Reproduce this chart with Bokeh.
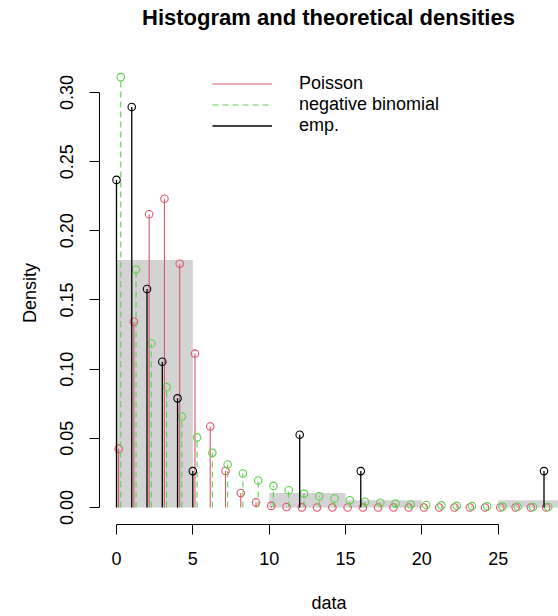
from bokeh.plotting import figure
from bokeh.models import (ColumnDataSource, FixedTicker, Legend, LegendItem, Range1d,
                          PrintfTickFormatter, Div)
from bokeh.layouts import column
from bokeh.transform import dodge
from bokeh.embed import file_html
from bokeh.resources import INLINE

FONT = "Liberation Sans"
RED = "#DF536B"
GREEN = "#61D04F"
GREY = "#D3D3D3"
TITLE = "Histogram and theoretical densities"

# ---- data ----
hist_left = [0, 5, 10, 15, 20, 25]
hist_right = [5, 10, 15, 20, 25, 30]
hist_density = [0.1789, 0.0, 0.0105, 0.0053, 0.0, 0.0053]

emp_x = [0, 1, 2, 3, 4, 5, 12, 16, 28]
emp_density = [0.2368, 0.2895, 0.1579, 0.1053, 0.0789, 0.0263, 0.0526, 0.0263, 0.0263]

k_values = list(range(29))
poisson_density = [0.04252, 0.13426, 0.21199, 0.22314, 0.17617, 0.11126, 0.05856, 0.02642,
                   0.01043, 0.00366, 0.00116, 0.00033, 0.00009, 0.00002, 0.000005, 0.000001,
                   0.0, 0.0, 0.0, 0.0, 0.0, 0.0, 0.0, 0.0, 0.0, 0.0, 0.0, 0.0, 0.0]
nbinom_density = [0.3111, 0.1720, 0.1185, 0.0870, 0.0658, 0.0507, 0.0395, 0.0311, 0.0246,
                  0.0195, 0.0156, 0.0125, 0.0100, 0.0081, 0.0065, 0.0052, 0.0042, 0.0034,
                  0.0028, 0.0022, 0.0018, 0.0015, 0.0012, 0.0010, 0.0008, 0.0006, 0.0005,
                  0.0004, 0.0004]

x_ticks = [0, 5, 10, 15, 20, 25]
y_ticks = [0.0, 0.05, 0.10, 0.15, 0.20, 0.25, 0.30]

hist_src = ColumnDataSource(dict(left=hist_left, right=hist_right, top=hist_density))
emp_src = ColumnDataSource(dict(k=emp_x, d=emp_density))
th_src = ColumnDataSource(dict(k=k_values, pois=poisson_density, nb=nbinom_density))

TITLE_H = 40
p = figure(width=558, height=616 - TITLE_H, output_backend="svg", toolbar_location=None,
           x_range=Range1d(-1.113, 28.95), y_range=Range1d(-0.0123, 0.3224),
           min_border_left=99, min_border_right=0, min_border_top=61 - TITLE_H,
           min_border_bottom=92)
p.background_fill_color = "white"
p.border_fill_color = "white"
p.outline_line_color = None
p.xgrid.visible = False
p.ygrid.visible = False

p.quad(left="left", right="right", bottom=0, top="top", source=hist_src,
       fill_color=GREY, line_color=None)

xp = dodge("k", 0.14, range=p.x_range)
xn = dodge("k", 0.28, range=p.x_range)

r_pois = p.segment(x0=xp, y0=0, x1=xp, y1="pois", source=th_src, line_color=RED, line_width=1.1)
p.scatter(x=xp, y="pois", source=th_src, marker="circle", size=7.5,
          fill_color=None, line_color=RED, line_width=1.1)

r_nb = p.segment(x0=xn, y0=0, x1=xn, y1="nb", source=th_src, line_color=GREEN,
                 line_width=1.1, line_dash="6 4")
p.scatter(x=xn, y="nb", source=th_src, marker="circle", size=7.5,
          fill_color=None, line_color=GREEN, line_width=1.1)

r_emp = p.segment(x0="k", y0=0, x1="k", y1="d", source=emp_src, line_color="black", line_width=1.3)
p.scatter(x="k", y="d", source=emp_src, marker="circle", size=7.5,
          fill_color=None, line_color="black", line_width=1.1)

legend = Legend(items=[LegendItem(label="Poisson", renderers=[r_pois]),
                       LegendItem(label="negative binomial", renderers=[r_nb]),
                       LegendItem(label="emp.", renderers=[r_emp])],
                location=(113, 388), padding=0, margin=0, spacing=0,
                glyph_width=60, glyph_height=21, label_height=21, label_standoff=27,
                label_text_font=FONT, label_text_font_size="18px", label_text_color="black",
                background_fill_alpha=0, border_line_alpha=0)
p.add_layout(legend, "center")

for ax in (p.xaxis[0], p.yaxis[0]):
    ax.axis_line_color = "black"
    ax.major_tick_line_color = "black"
    ax.major_tick_in = 0
    ax.major_tick_out = 10
    ax.minor_tick_line_color = None
    ax.major_label_text_font = FONT
    ax.major_label_text_font_size = "18px"
    ax.major_label_text_color = "black"
    ax.axis_label_text_font = FONT
    ax.axis_label_text_font_size = "18px"
    ax.axis_label_text_font_style = "normal"
    ax.axis_label_text_color = "black"

p.xaxis.bounds = (0, 25)
p.xaxis.ticker = FixedTicker(ticks=x_ticks)
p.xaxis.axis_label = "data"
p.xaxis.major_label_standoff = 17
p.xaxis.axis_label_standoff = 25

p.yaxis.bounds = (0, 0.30)
p.yaxis.ticker = FixedTicker(ticks=y_ticks)
p.yaxis.formatter = PrintfTickFormatter(format="%.2f")
p.yaxis.major_label_orientation = "vertical"
p.yaxis.axis_label = "Density"
p.yaxis.major_label_standoff = 16
p.yaxis.axis_label_standoff = 18

title_div = Div(
    text=('<div style="font-family:\'Liberation Sans\',Arial,sans-serif;font-weight:bold;'
          'font-size:22px;line-height:36px;text-align:center;color:black;'
          'white-space:nowrap;box-sizing:content-box;width:459px;padding-left:99px;">'
          + TITLE + '</div>'),
    width=558, height=TITLE_H, margin=0)

layout = column(title_div, p, spacing=0)

open("out.html", "w").write(file_html(layout, INLINE))
